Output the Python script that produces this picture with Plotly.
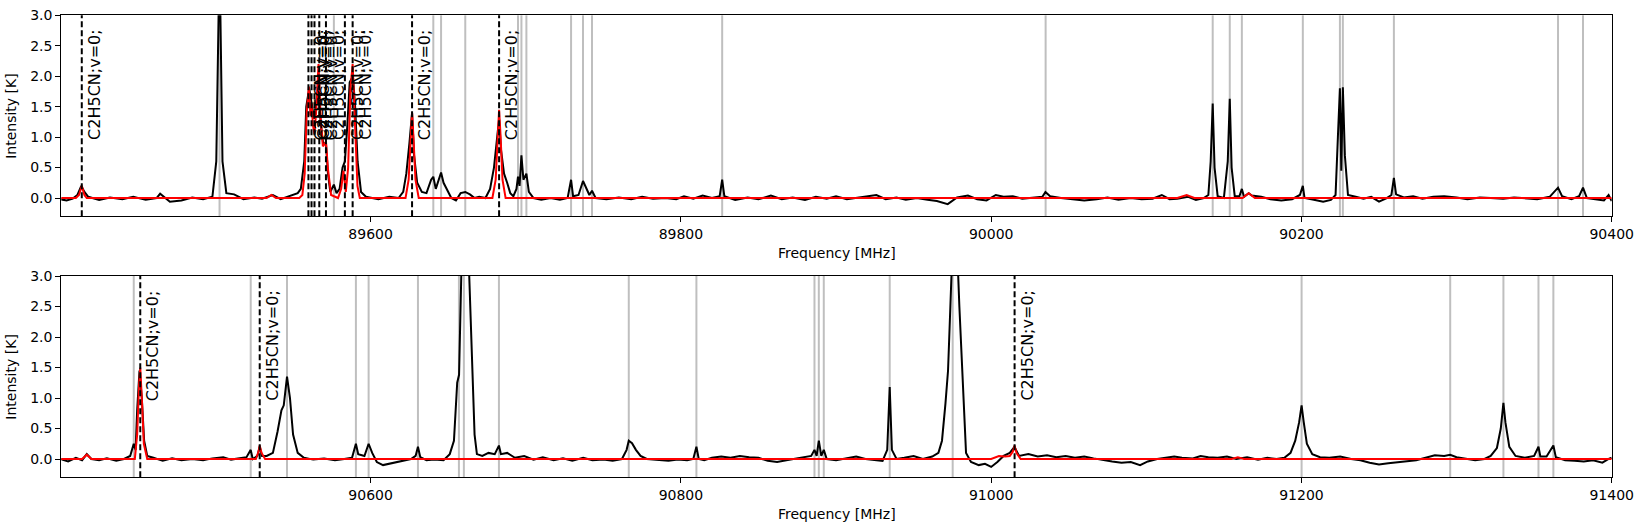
import plotly.graph_objects as go

# ---------------- data ----------------
top_freq = [89400, 89404, 89408, 89411, 89413.5, 89415.5, 89418, 89425, 89432, 89440, 89447, 89455, 89462, 89464.3,
            89470.6, 89478, 89485, 89492, 89498, 89500.5, 89502.6, 89504.5, 89507, 89512, 89518, 89525, 89530, 89535,
            89537, 89542, 89548, 89553, 89555, 89557.2, 89558.5, 89560.4, 89562, 89563.6, 89565, 89566.4, 89567.9,
            89569.4, 89571.2, 89572.5, 89574, 89576.3, 89578, 89580, 89581.9, 89583.4, 89585, 89586.5, 89588.6, 89590,
            89591.6, 89593.8, 89597, 89605, 89612, 89618, 89621, 89623, 89625, 89626.7, 89628, 89630, 89633, 89636,
            89639, 89640.4, 89642, 89645.4, 89647, 89650, 89652, 89655, 89658, 89661, 89664, 89667, 89670, 89674,
            89677, 89679.5, 89681, 89682.8, 89684, 89686, 89688, 89690, 89692, 89694, 89695, 89696, 89697.2, 89698.5,
            89700.4, 89702, 89705, 89710, 89716, 89722, 89727, 89729.2, 89730.5, 89734, 89736.9, 89739, 89741,
            89742.7, 89745, 89752, 89760, 89768, 89775, 89782, 89790, 89797, 89802, 89808, 89814, 89820, 89825,
            89826.6, 89828, 89835, 89843, 89850, 89858, 89865, 89872, 89880, 89887, 89894, 89900, 89907, 89914,
            89921, 89926, 89932, 89939, 89945, 89952, 89959, 89965, 89972, 89978, 89985, 89991, 89997, 90003, 90008,
            90014, 90020, 90027, 90033, 90035, 90038, 90045, 90052, 90060, 90068, 90075, 90082, 90090, 90097, 90104,
            90110, 90115, 90120, 90127, 90132, 90137, 90140, 90141.5, 90142.8, 90144, 90146, 90150, 90152.5,
            90153.8, 90155, 90157, 90160, 90161.6, 90163, 90166, 90168, 90174, 90180, 90187, 90194, 90199, 90200.9,
            90202, 90208, 90214, 90219, 90222, 90223.5, 90224.8, 90225.7, 90226.7, 90228, 90230, 90235, 90240,
            90245, 90250, 90255, 90258, 90259.6, 90261, 90266, 90272, 90278, 90285, 90292, 90300, 90307, 90315,
            90322, 90330, 90337, 90345, 90352, 90360, 90365.4, 90368, 90374, 90379, 90381.5, 90384, 90390, 90395,
            90398, 90400]
top_int = [-0.02, -0.04, -0.01, 0.05, 0.20, 0.10, 0.02, -0.03, 0.01, -0.02, 0.02, -0.03, 0.00, 0.07,
           -0.06, -0.04, 0.01, -0.02, 0.02, 0.6, 4.0, 0.6, 0.08, 0.06, -0.02, 0.01, -0.01, 0.03,
           0.05, -0.02, 0.03, 0.08, 0.15, 0.6, 1.5, 1.8, 1.55, 1.3, 1.6, 1.75, 1.2,
           0.9, 0.9, 0.4, 0.1, 0.22, 0.08, 0.15, 0.5, 0.6, 1.2, 1.9, 2.0, 1.5,
           0.6, 0.1, 0.02, -0.02, 0.02, 0.0, 0.1, 0.4, 0.9, 1.4, 0.7, 0.25, 0.1, 0.08,
           0.3, 0.35, 0.15, 0.42, 0.25, 0.1, 0.0, -0.04, 0.08, 0.1, 0.06, 0.0, 0.02, 0.0,
           0.15, 0.5, 0.9, 1.3, 0.8, 0.4, 0.25, 0.08, 0.03, 0.15, 0.35, 0.2, 0.7, 0.3,
           0.4, 0.1, 0.0, -0.03, 0.0, -0.03, 0.0, 0.3, 0.03, 0.05, 0.28, 0.15, 0.05,
           0.12, 0.0, -0.02, 0.01, -0.02, 0.02, -0.01, 0.0, -0.02, 0.03, -0.01, 0.04, 0.0, 0.03,
           0.3, 0.03, -0.03, 0.01, -0.02, 0.04, -0.02, 0.01, -0.03, 0.02, -0.01, 0.03, -0.02, 0.01,
           0.03, 0.05, -0.02, 0.01, -0.03, 0.0, -0.03, -0.05, -0.1, 0.01, 0.04, -0.02, -0.04, 0.05, 0.02,
           0.03, -0.01, 0.01, 0.02, 0.1, 0.03, 0.0, -0.02, -0.04, -0.02, 0.01, -0.03, 0.0, -0.02, -0.01,
           0.05, -0.02, -0.01, 0.02, -0.03, 0.0, 0.05, 0.6, 1.55, 0.5, 0.03, 0.0, 0.6,
           1.63, 0.5, 0.03, 0.03, 0.15, 0.02, 0.08, 0.04, 0.02, -0.02, -0.04, -0.02, 0.05, 0.2,
           0.0, -0.03, -0.06, -0.03, 0.05, 1.0, 1.8, 0.45, 1.82, 0.7, 0.05, 0.02, -0.01,
           0.02, -0.06, 0.0, 0.05, 0.33, 0.06, 0.01, 0.03, -0.01, 0.02, 0.03, 0.01, -0.02, 0.01,
           0.0, -0.01, 0.01, 0.0, -0.02, 0.02, 0.17, 0.03, -0.02, 0.03, 0.17, 0.0, -0.02, -0.04,
           0.05, -0.05]

top_model_freq = [89400, 89410, 89412, 89413.8, 89415.5, 89417, 89533, 89536, 89539, 89554, 89556, 89557.5,
                  89558.8, 89560.2, 89561.2, 89561.9, 89562.8, 89563.8, 89564.8, 89566.4, 89567.8, 89569.2,
                  89570.2, 89571.2, 89572.4, 89574.5, 89579, 89581, 89582.5, 89584, 89585.5, 89587, 89588.4,
                  89590, 89591.5, 89593, 89622.5, 89624.5, 89625.8, 89626.7, 89627.6, 89628.9, 89631,
                  89678.5, 89680.6, 89681.9, 89682.8, 89683.7, 89685, 89687, 90120, 90126, 90131,
                  90162, 90166, 90170, 90400]
top_model_int = [0.0, 0.0, 0.05, 0.2, 0.05, 0.0, 0.0, 0.05, 0.0, 0.0, 0.05, 0.4,
                 1.4, 1.83, 1.35, 1.55, 1.2, 1.05, 1.4, 2.2, 1.3, 0.85,
                 0.88, 0.93, 0.5, 0.05, 0.0, 0.15, 0.45, 0.1, 0.5, 1.8, 2.2,
                 1.2, 0.2, 0.0, 0.0, 0.3, 1.0, 1.4, 1.0, 0.3, 0.0,
                 0.0, 0.3, 1.05, 1.45, 1.05, 0.3, 0.0, 0.0, 0.05, 0.0,
                 0.0, 0.08, 0.0, 0.0]

bot_freq = [90400, 90405, 90410, 90414, 90417, 90420, 90425, 90430, 90436, 90441, 90445, 90447.3, 90448.5,
            90449.5, 90451, 90452.5, 90454, 90456, 90460, 90466, 90472, 90478, 90485, 90492, 90498, 90505,
            90510, 90515, 90520, 90522.7, 90524, 90527, 90528.5, 90530, 90533, 90537, 90540, 90542.5, 90544,
            90546.1, 90548, 90550, 90553, 90557, 90563, 90570, 90577, 90583, 90588, 90590.5, 90592, 90596,
            90598.7, 90601, 90604, 90608, 90614, 90620, 90626, 90629, 90630.5, 90632, 90636, 90641, 90647,
            90651, 90653.7, 90655.8, 90657, 90658.6, 90661, 90663.3, 90665.4, 90667, 90668.5, 90672, 90676,
            90680, 90682.7, 90684, 90688, 90693, 90699, 90705, 90711, 90718, 90724, 90730, 90737, 90743,
            90750, 90756, 90762, 90765, 90766.4, 90768.5, 90771, 90774, 90778, 90785, 90792, 90798, 90804,
            90808, 90810, 90811.5, 90815, 90820, 90826, 90832, 90838, 90844, 90850, 90856, 90862, 90868,
            90874, 90880, 90884, 90886.1, 90887.5, 90888.9, 90890.5, 90892.1, 90894, 90900, 90907, 90913,
            90919, 90925, 90930, 90933, 90934.6, 90936, 90939, 90944, 90950, 90956, 90962, 90966, 90968.3,
            90970.5, 90972.2, 90973.7, 90976.5, 90979.5, 90981.2, 90983.8, 90987, 90992, 90996, 91000,
            91004, 91008, 91012, 91015, 91018, 91024, 91030, 91036, 91042, 91048, 91054, 91060, 91066,
            91072, 91078, 91084, 91090, 91096, 91101, 91107, 91113, 91118, 91123, 91130, 91135, 91140,
            91146, 91152, 91158, 91165, 91172, 91178, 91184, 91189, 91193, 91196, 91198.5, 91200.1, 91201.5,
            91203.5, 91207, 91212, 91218, 91225, 91232, 91238, 91244, 91250, 91256, 91262, 91268, 91274,
            91280, 91286, 91292, 91295.9, 91300, 91306, 91312, 91318, 91322, 91326, 91328.5, 91330.2,
            91331.5, 91334, 91338, 91344, 91350, 91352.8, 91354, 91358, 91362.4, 91364, 91370, 91376,
            91382, 91388, 91394, 91398, 91400]
bot_int = [0.0, -0.04, 0.02, -0.02, 0.08, 0.0, -0.02, 0.01, -0.03, 0.0, 0.05, 0.25, 0.15,
           0.8, 1.45, 1.0, 0.3, 0.05, 0.02, -0.03, 0.01, -0.02, 0.0, -0.02, 0.01, 0.03,
           -0.01, 0.01, 0.03, 0.15, 0.0, 0.05, 0.2, 0.05, 0.05, 0.1, 0.45, 0.8, 0.88,
           1.35, 1.0, 0.4, 0.1, 0.02, -0.01, 0.01, -0.02, 0.0, 0.02, 0.25, 0.08, 0.05,
           0.25, 0.1, -0.05, -0.1, -0.07, -0.04, 0.0, 0.05, 0.2, 0.03, -0.02, -0.01, -0.02,
           0.08, 0.3, 1.25, 1.38, 3.2, 4.5, 3.2, 1.5, 0.4, 0.08, 0.05, 0.1,
           0.08, 0.22, 0.08, 0.1, 0.02, 0.05, -0.01, 0.03, -0.02, 0.01, -0.03, 0.02, -0.02,
           -0.01, -0.03, 0.0, 0.15, 0.3, 0.26, 0.15, 0.05, 0.0, -0.02, -0.03, -0.01, -0.02,
           0.0, 0.2, 0.0, -0.02, 0.02, 0.04, 0.02, 0.05, 0.03, 0.02, -0.03, -0.05, -0.02,
           0.01, 0.03, 0.05, 0.15, 0.05, 0.3, 0.05, 0.15, 0.0, -0.02, 0.01, 0.04,
           0.0, -0.02, -0.03, 0.15, 1.18, 0.15, 0.0, 0.02, 0.05, 0.0, 0.04, 0.1, 0.3,
           0.9, 1.45, 2.5, 4.5, 2.5, 1.5, 0.1, -0.05, -0.1, -0.08, -0.13,
           -0.05, 0.05, 0.1, 0.2, 0.05, 0.08, 0.04, 0.06, 0.03, 0.05, 0.02, 0.04, 0.01,
           -0.02, -0.04, -0.06, -0.05, -0.1, -0.04, 0.0, 0.02, 0.04, 0.02, 0.01, 0.05, 0.03,
           0.02, 0.04, 0.0, 0.03, -0.01, 0.02, 0.0, 0.02, 0.1, 0.3, 0.6, 0.88, 0.6,
           0.25, 0.08, 0.03, 0.02, 0.04, 0.0, -0.02, -0.06, -0.09, -0.07, -0.05, -0.03, -0.02,
           0.02, 0.06, 0.05, 0.07, 0.03, 0.0, -0.02, 0.0, 0.05, 0.18, 0.5, 0.92,
           0.6, 0.2, 0.05, 0.02, 0.05, 0.2, 0.04, 0.04, 0.22, 0.03, -0.02, -0.03,
           -0.04, -0.02, -0.06, 0.0, 0.02]

bot_model_freq = [90400, 90414, 90417, 90420, 90448, 90449.5, 90450.7, 90451.5, 90452.5, 90453.8, 90456,
                  90526, 90527.5, 90528.5, 90529.7, 90532, 91000, 91005, 91009, 91012, 91014, 91015.1,
                  91016.3, 91019, 91155, 91159, 91163, 91400]
bot_model_int = [0.0, 0.0, 0.07, 0.0, 0.0, 0.4, 1.2, 1.5, 1.0, 0.25, 0.0,
                 0.0, 0.1, 0.22, 0.1, 0.0, 0.0, 0.05, 0.04, 0.05, 0.12, 0.22,
                 0.1, 0.0, 0.0, 0.03, 0.0, 0.0]

top_dashed = [89413.8, 89559.9, 89561.9, 89563.8, 89566.9, 89571.2, 89583.4, 89588.4, 89626.7, 89682.8]
bot_dashed = [90451.5, 90528.5, 91015.1]
top_gray = [89502.6, 89576.3, 89640.4, 89645.4, 89661.0, 89695.0, 89697.2, 89700.4, 89729.2, 89736.9,
            89742.7, 89826.6, 90035.1, 90142.8, 90153.8, 90161.6, 90200.9, 90224.8, 90226.7, 90259.6,
            90365.4, 90381.5]
bot_gray = [90447.3, 90522.7, 90546.1, 90590.5, 90598.7, 90630.5, 90656.9, 90660.1, 90682.7, 90766.4,
            90810.0, 90886.1, 90888.9, 90892.1, 90934.6, 90975.2, 91200.1, 91295.9, 91330.2, 91352.8,
            91362.4]
line_label = "C2H5CN;v=0;"
top_xticks = [89600, 89800, 90000, 90200, 90400]
bot_xticks = [90600, 90800, 91000, 91200, 91400]
yticks = [0.0, 0.5, 1.0, 1.5, 2.0, 2.5, 3.0]

# ---------------- figure ----------------
W, H = 1642, 530
FONT = "DejaVu Sans"
fig = go.Figure()

x0d, x1d = 61.3 / W, 1611.7 / W
top_dom = [1 - 216.3 / H, 1 - 15.3 / H]
bot_dom = [1 - 477.3 / H, 1 - 276.0 / H]

panels = [
    ("x", "y", top_freq, top_int, top_model_freq, top_model_int, top_dashed, top_gray, [89400.6, 90400]),
    ("x2", "y2", bot_freq, bot_int, bot_model_freq, bot_model_int, bot_dashed, bot_gray, [90400.6, 91400]),
]

shapes = []
annotations = []
for xa, ya, f, v, mf, mv, dashed, gray, rng in panels:
    fig.add_trace(go.Scatter(x=f, y=v, mode="lines", xaxis=xa, yaxis=ya,
                             line=dict(color="black", width=2), showlegend=False, hoverinfo="skip"))
    fig.add_trace(go.Scatter(x=mf, y=mv, mode="lines", xaxis=xa, yaxis=ya,
                             line=dict(color="red", width=2), showlegend=False, hoverinfo="skip"))
    for g in gray:
        shapes.append(dict(type="line", xref=xa, yref=ya + " domain", x0=g, x1=g, y0=0, y1=1,
                           line=dict(color="#bfbfbf", width=2), layer="below"))
    for d in dashed:
        shapes.append(dict(type="line", xref=xa, yref=ya + " domain", x0=d, x1=d, y0=0, y1=1,
                           line=dict(color="black", width=2, dash="6px,3px"), layer="above"))
        annotations.append(dict(x=d, y=1.0, xref=xa, yref=ya, text=line_label, textangle=-90,
                                showarrow=False, xanchor="left", yanchor="bottom", xshift=1, yshift=-5,
                                font=dict(family=FONT, size=16, color="black")))

axis_common = dict(showline=True, linecolor="black", linewidth=1.2, mirror=True, ticks="outside",
                   ticklen=5, tickwidth=1.2, tickcolor="black", showgrid=False, zeroline=False,
                   tickfont=dict(family=FONT, size=14, color="black"), automargin=False)

fig.update_layout(
    width=W, height=H, margin=dict(l=0, r=0, t=0, b=0),
    paper_bgcolor="white", plot_bgcolor="white",
    font=dict(family=FONT, size=14, color="black"),
    xaxis=dict(domain=[x0d, x1d], range=panels[0][8], anchor="y", tickvals=top_xticks, tickformat="d",
               **axis_common),
    yaxis=dict(domain=top_dom, range=[-0.3, 3.0], anchor="x", tickvals=yticks, tickformat=".1f", **axis_common),
    xaxis2=dict(domain=[x0d, x1d], range=panels[1][8], anchor="y2", tickvals=bot_xticks, tickformat="d",
                **axis_common),
    yaxis2=dict(domain=bot_dom, range=[-0.3, 3.0], anchor="x2", tickvals=yticks, tickformat=".1f", **axis_common),
    shapes=shapes,
)

# axis titles
for ytop, ybot in [(top_dom[1], top_dom[0]), (bot_dom[1], bot_dom[0])]:
    annotations.append(dict(x=(x0d + x1d) / 2, y=ybot - 27 / H, xref="paper", yref="paper",
                            text="Frequency [MHz]", showarrow=False, xanchor="center", yanchor="top",
                            font=dict(family=FONT, size=14, color="black")))
    annotations.append(dict(x=11 / W, y=(ytop + ybot) / 2, xref="paper", yref="paper",
                            text="Intensity [K]", showarrow=False, textangle=-90, xanchor="center",
                            yanchor="middle", font=dict(family=FONT, size=14, color="black")))
fig.update_layout(annotations=annotations)

fig.write_html("out.html")
